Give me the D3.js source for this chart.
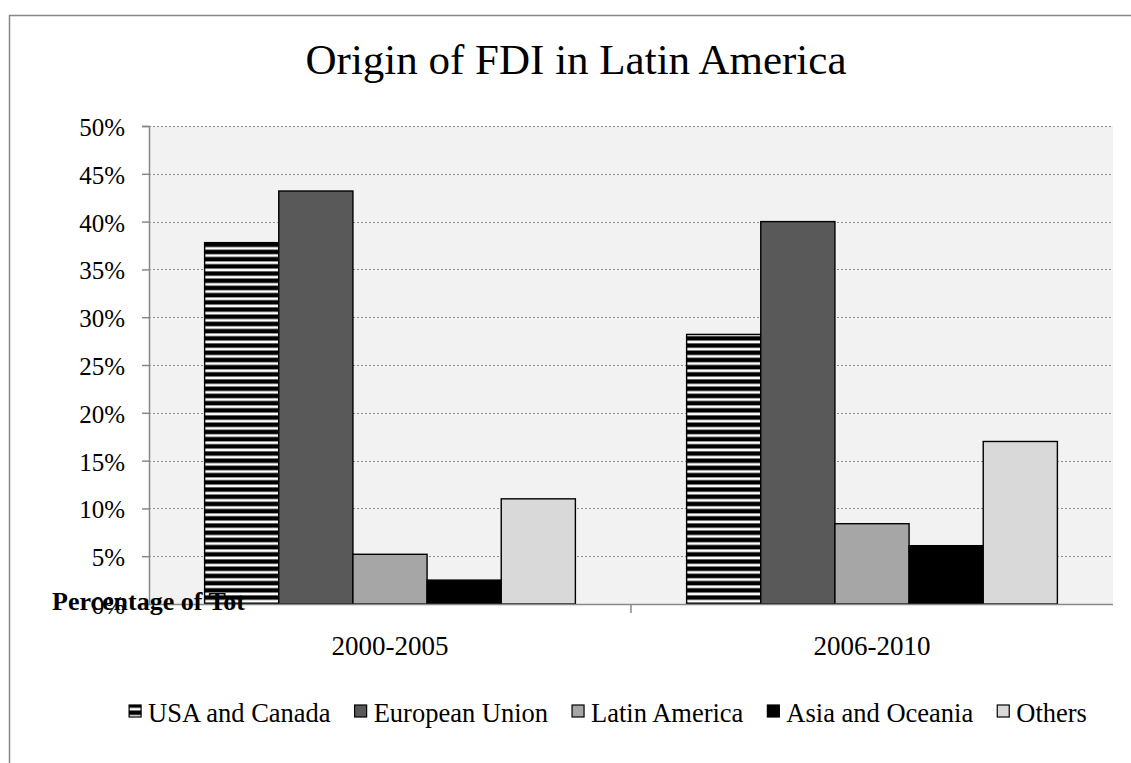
<!DOCTYPE html>
<html>
<head>
<meta charset="utf-8">
<script src="https://cdn.jsdelivr.net/npm/d3@7"></script>
<style>
  html, body { margin: 0; padding: 0; background: #ffffff; }
  svg { display: block; }
  text { font-family: "Liberation Serif", "Times New Roman", serif; fill: #000; }
</style>
</head>
<body>
<svg id="chart" width="1131" height="763"></svg>
<script>
// ---- data ----
const categories = ["2000-2005", "2006-2010"];
const seriesNames = ["USA and Canada", "European Union", "Latin America", "Asia and Oceania", "Others"];
const usaCanada = [37.8, 28.2];
const europeanUnion = [43.2, 40.0];
const latinAmerica = [5.2, 8.4];
const asiaOceania = [2.5, 6.1];
const others = [11.0, 17.0];
const yTicks = [0, 5, 10, 15, 20, 25, 30, 35, 40, 45, 50];
const chartTitle = "Origin of FDI in Latin America";
const axisTitle = "Percentage of Tot";

const seriesValues = [usaCanada, europeanUnion, latinAmerica, asiaOceania, others];
const seriesFill = ["url(#stripes)", "#595959", "#a6a6a6", "#000000", "#d9d9d9"];

const svg = d3.select("#chart");

// pattern for USA and Canada
const defs = svg.append("defs");
const pat = defs.append("pattern")
  .attr("id", "stripes")
  .attr("patternUnits", "userSpaceOnUse")
  .attr("width", 8).attr("height", 7.2);
pat.append("rect").attr("width", 8).attr("height", 7.2).attr("fill", "#000");
pat.append("rect").attr("y", 2.2).attr("width", 8).attr("height", 2.7).attr("fill", "#fff");

// outer border (only top and left visible)
svg.append("path")
  .attr("d", "M9.5,763 L9.5,15.5 L1131,15.5")
  .attr("fill", "none").attr("stroke", "#888").attr("stroke-width", 1.5);

// scales
const plotL = 149, plotR = 1113, plotT = 126, plotB = 604;
const x0 = d3.scaleBand().domain(categories).range([plotL, plotR]).paddingInner(0).paddingOuter(0);
const x1 = d3.scaleBand().domain(seriesNames).range([0, x0.bandwidth()]).paddingInner(0).paddingOuter(0.75);
const y = d3.scaleLinear().domain([0, 50]).range([plotB, plotT]);

// plot background
svg.append("rect")
  .attr("x", plotL).attr("y", plotT)
  .attr("width", plotR - plotL).attr("height", plotB - plotT)
  .attr("fill", "#f2f2f2");

// gridlines
svg.append("g").selectAll("line")
  .data(yTicks.filter(t => t > 0))
  .join("line")
  .attr("x1", plotL).attr("x2", plotR)
  .attr("y1", d => Math.round(y(d)) + 0.5).attr("y2", d => Math.round(y(d)) + 0.5)
  .attr("stroke", "#8c8c8c").attr("stroke-width", 1.2)
  .attr("stroke-dasharray", "2,2");

// y axis
const yAxis = svg.append("g")
  .attr("transform", `translate(${plotL},0)`)
  .call(d3.axisLeft(y).tickValues(yTicks).tickSize(7).tickPadding(17).tickFormat(d => d + "%"));
yAxis.select(".domain").attr("stroke", "#888").attr("stroke-width", 1.5);
yAxis.selectAll(".tick line").attr("stroke", "#888").attr("stroke-width", 1.5);
yAxis.selectAll(".tick text")
  .attr("font-family", "Liberation Serif")
  .attr("font-size", 25).attr("dy", "0.38em").attr("fill", "#000");

// bars
const groups = svg.append("g").selectAll("g")
  .data(categories)
  .join("g")
  .attr("transform", d => `translate(${x0(d)},0)`);

groups.selectAll("rect")
  .data((c, ci) => seriesNames.map((s, si) => ({ s, si, v: seriesValues[si][ci] })))
  .join("rect")
  .attr("x", d => x1(d.s))
  .attr("y", d => y(d.v))
  .attr("width", x1.bandwidth())
  .attr("height", d => y(0) - y(d.v))
  .attr("fill", d => seriesFill[d.si])
  .attr("stroke", "#000").attr("stroke-width", 1.4);

// category axis
svg.append("line")
  .attr("x1", plotL).attr("x2", plotR)
  .attr("y1", plotB + 0.5).attr("y2", plotB + 0.5)
  .attr("stroke", "#888").attr("stroke-width", 1.5);
svg.append("g").selectAll("line")
  .data(categories.slice(1))
  .join("line")
  .attr("x1", d => x0(d)).attr("x2", d => x0(d))
  .attr("y1", plotB).attr("y2", plotB + 9)
  .attr("stroke", "#888").attr("stroke-width", 1.5);
svg.append("g").selectAll("text")
  .data(categories)
  .join("text")
  .attr("x", d => x0(d) + x0.bandwidth() / 2)
  .attr("y", 655)
  .attr("text-anchor", "middle")
  .attr("font-size", 27)
  .text(d => d);

// axis title (overlapping the 0% label, as in the original)
svg.append("text")
  .attr("x", 52).attr("y", 610)
  .attr("font-size", 26).attr("font-weight", "bold")
  .text(axisTitle);

// chart title
svg.append("text")
  .attr("x", 576).attr("y", 74)
  .attr("text-anchor", "middle")
  .attr("font-size", 43)
  .text(chartTitle);

// legend
const legend = svg.append("g");
const items = legend.selectAll("g")
  .data(seriesNames)
  .join("g");
items.append("rect")
  .attr("x", 0).attr("y", 705)
  .attr("width", 12).attr("height", 12)
  .attr("fill", (d, i) => seriesFill[i])
  .attr("stroke", "#000").attr("stroke-width", 1.2);
items.append("text")
  .attr("x", 19).attr("y", 722)
  .attr("font-size", 26.5)
  .text(d => d);
let xpos = 0;
const gap = 24;
items.each(function () {
  const g = d3.select(this);
  g.attr("transform", `translate(${xpos},0)`);
  xpos += 19 + g.select("text").node().getComputedTextLength() + gap;
});
const totalW = xpos - gap;
legend.attr("transform", `translate(${608 - totalW / 2},0)`);
</script>
</body>
</html>
